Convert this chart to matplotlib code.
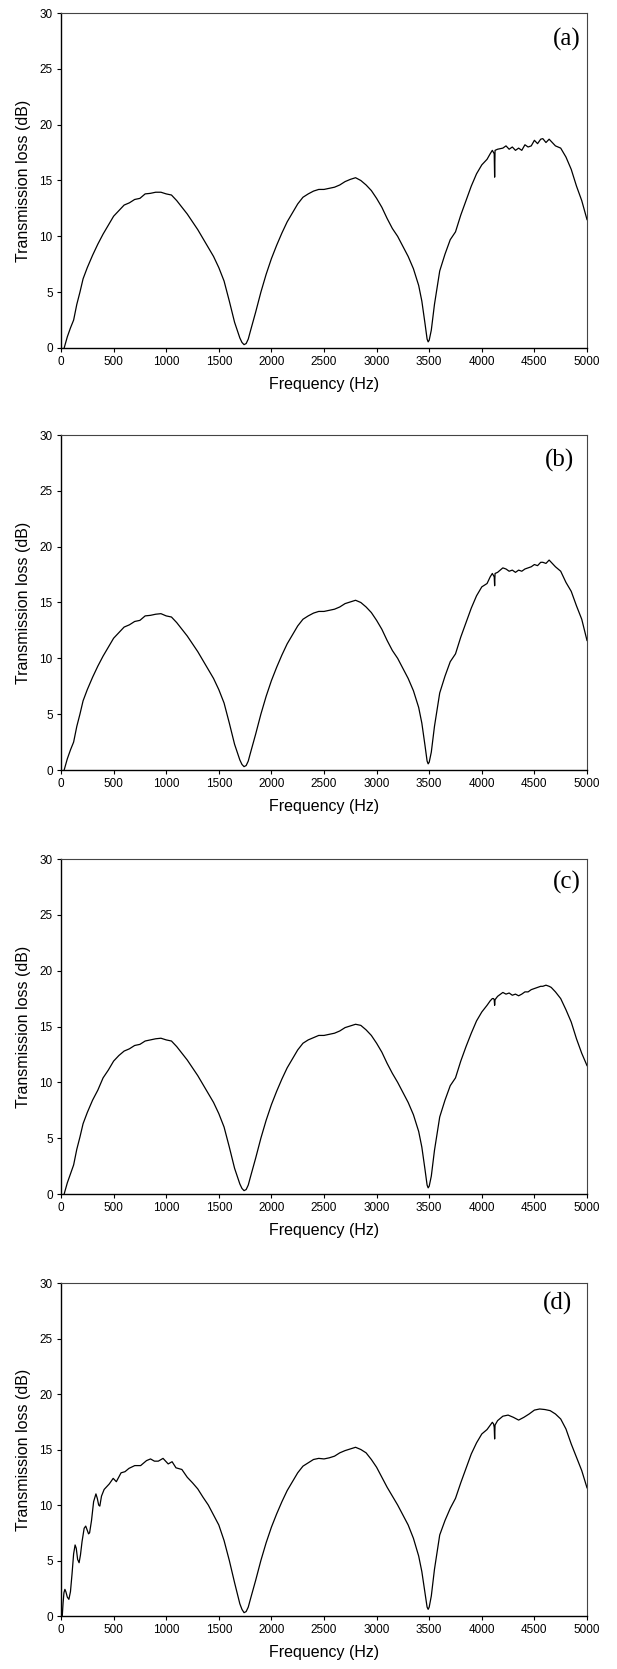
import numpy as np
import matplotlib
matplotlib.use("Agg")
import matplotlib.pyplot as plt

plt.rcParams['font.family'] = ['Liberation Sans', 'DejaVu Sans']

# frequency axis (Hz) shared by panels (a)-(c)
freq_abc = [30, 60, 90, 120, 150, 180, 210, 250, 300, 350, 400, 450, 500, 550,
            600, 650, 700, 750, 800, 850, 900, 950, 1000, 1050, 1100, 1150,
            1200, 1250, 1300, 1350, 1400, 1450, 1500, 1550, 1600, 1650, 1700,
            1720, 1740, 1760, 1780, 1800, 1850, 1900, 1950, 2000, 2050, 2100,
            2150, 2200, 2250, 2300, 2350, 2400, 2450, 2500, 2550, 2600, 2650,
            2700, 2750, 2800, 2850, 2900, 2950, 3000, 3050, 3100, 3150, 3200,
            3250, 3300, 3350, 3400, 3430, 3460, 3480, 3490, 3500, 3520, 3550,
            3600, 3650, 3700, 3750, 3800, 3850, 3900, 3950, 4000, 4050, 4080,
            4100, 4112, 4118, 4122, 4126, 4150, 4200, 4230, 4260, 4290, 4320,
            4350, 4380, 4410, 4440, 4470, 4500, 4530, 4560, 4580, 4610, 4640,
            4660, 4700, 4750, 4800, 4850, 4900, 4950, 5000]

tl_a = [0.0, 1.0, 1.8, 2.5, 3.9, 5.0, 6.2, 7.2, 8.3, 9.3, 10.2, 11.0, 11.8, 12.3,
        12.8, 13.0, 13.3, 13.4, 13.8, 13.85, 13.95, 13.95, 13.8, 13.7, 13.2, 12.6,
        12.0, 11.3, 10.6, 9.8, 9.0, 8.2, 7.2, 6.0, 4.2, 2.3, 0.9,
        0.5, 0.3, 0.4, 0.8, 1.5, 3.2, 5.0, 6.6, 8.0, 9.2, 10.3,
        11.3, 12.1, 12.9, 13.5, 13.8, 14.05, 14.2, 14.2, 14.3, 14.4, 14.6,
        14.9, 15.1, 15.25, 15.0, 14.6, 14.1, 13.4, 12.6, 11.6, 10.7, 10.0,
        9.1, 8.2, 7.1, 5.6, 4.2, 2.2, 0.8, 0.55, 0.7, 1.6, 3.9,
        6.9, 8.4, 9.7, 10.4, 11.9, 13.2, 14.5, 15.6, 16.4, 16.9, 17.4,
        17.7, 17.5, 17.4, 15.3, 17.7, 17.8, 17.9, 18.1, 17.8, 18.0, 17.7,
        17.9, 17.7, 18.2, 18.0, 18.1, 18.6, 18.3, 18.7, 18.75, 18.4, 18.7,
        18.5, 18.1, 17.9, 17.1, 16.0, 14.5, 13.2, 11.5]

tl_b = [0.0, 1.0, 1.8, 2.5, 3.9, 5.0, 6.2, 7.2, 8.3, 9.3, 10.2, 11.0, 11.8, 12.3,
        12.8, 13.0, 13.3, 13.4, 13.8, 13.85, 13.95, 14.0, 13.8, 13.7, 13.2, 12.6,
        12.0, 11.3, 10.6, 9.8, 9.0, 8.2, 7.2, 6.0, 4.2, 2.3, 0.9,
        0.5, 0.3, 0.4, 0.8, 1.5, 3.2, 5.0, 6.6, 8.0, 9.2, 10.3,
        11.3, 12.1, 12.9, 13.5, 13.8, 14.05, 14.2, 14.2, 14.3, 14.4, 14.6,
        14.9, 15.05, 15.2, 15.0, 14.6, 14.1, 13.4, 12.6, 11.6, 10.7, 10.0,
        9.1, 8.2, 7.1, 5.6, 4.2, 2.2, 0.8, 0.55, 0.7, 1.6, 3.9,
        6.9, 8.4, 9.7, 10.4, 11.9, 13.2, 14.5, 15.6, 16.4, 16.7, 17.3,
        17.6, 17.4, 17.3, 16.5, 17.6, 17.7, 18.1, 18.0, 17.8, 17.9, 17.7,
        17.9, 17.8, 18.0, 18.1, 18.2, 18.4, 18.3, 18.6, 18.6, 18.5, 18.8,
        18.6, 18.2, 17.8, 16.8, 16.0, 14.7, 13.5, 11.6]

tl_c = [0.0, 1.0, 1.8, 2.6, 4.0, 5.1, 6.3, 7.3, 8.4, 9.3, 10.4, 11.1, 11.9, 12.4,
        12.8, 13.0, 13.3, 13.4, 13.7, 13.8, 13.9, 13.95, 13.8, 13.7, 13.2, 12.6,
        12.0, 11.3, 10.6, 9.8, 9.0, 8.2, 7.2, 6.0, 4.2, 2.3, 0.9,
        0.5, 0.3, 0.4, 0.8, 1.5, 3.2, 5.0, 6.6, 8.0, 9.2, 10.3,
        11.3, 12.1, 12.9, 13.5, 13.8, 14.0, 14.2, 14.2, 14.3, 14.4, 14.6,
        14.9, 15.05, 15.2, 15.1, 14.7, 14.2, 13.5, 12.7, 11.7, 10.8, 10.0,
        9.1, 8.2, 7.1, 5.6, 4.2, 2.2, 0.8, 0.55, 0.7, 1.6, 3.9,
        6.9, 8.4, 9.7, 10.4, 11.9, 13.2, 14.4, 15.5, 16.3, 16.9, 17.3,
        17.5, 17.5, 17.4, 16.9, 17.4, 17.7, 18.05, 17.9, 18.0, 17.8, 17.9,
        17.75, 17.9, 18.1, 18.1, 18.3, 18.4, 18.5, 18.6, 18.6, 18.7, 18.6,
        18.5, 18.1, 17.5, 16.5, 15.4, 13.9, 12.6, 11.5]

# panel (d) resolves the low-frequency oscillations
freq_d = [12, 20, 28, 37, 46, 60, 75, 90, 105, 120, 134, 145, 158, 172, 185,
          200, 220, 235, 250, 262, 272, 290, 310, 332, 345, 358, 369, 385,
          410, 459, 496, 526, 571, 608, 646, 701, 757, 813, 851, 888,
          925, 970, 1019, 1056, 1093, 1149, 1200, 1250, 1300, 1350, 1400, 1450,
          1500, 1550, 1600, 1650, 1700, 1720, 1740, 1760, 1780, 1800, 1850,
          1900, 1950, 2000, 2050, 2100, 2150, 2200, 2250, 2300, 2350, 2400,
          2450, 2500, 2550, 2600, 2650, 2700, 2750, 2800, 2850, 2900, 2950,
          3000, 3050, 3100, 3150, 3200, 3250, 3300, 3350, 3400, 3430, 3460,
          3480, 3490, 3500, 3520, 3550, 3600, 3650, 3700, 3750, 3800, 3850,
          3900, 3950, 4000, 4050, 4080, 4100, 4112, 4118, 4122, 4126, 4150,
          4200, 4250, 4300, 4350, 4400, 4450, 4500, 4550, 4600, 4650, 4700,
          4750, 4800, 4850, 4900, 4950, 5000]

tl_d = [0.0, 1.2, 2.1, 2.4, 2.2, 1.7, 1.5, 2.2, 3.8, 5.6, 6.4, 6.1, 5.1, 4.8, 5.5,
        6.7, 7.9, 8.1, 7.7, 7.4, 7.5, 8.6, 10.3, 11.0, 10.6, 10.0, 9.9, 10.8,
        11.4, 11.9, 12.4, 12.1, 12.9, 13.0, 13.3, 13.55, 13.55, 14.0,
        14.15, 13.95, 13.95, 14.2, 13.7, 13.9, 13.35, 13.2, 12.5, 12.0, 11.45,
        10.7, 10.0, 9.1, 8.2, 6.8, 5.0, 3.0, 1.1, 0.6, 0.3, 0.4, 0.8, 1.5,
        3.2, 5.0, 6.6, 8.0, 9.2, 10.3, 11.3, 12.1, 12.9, 13.5, 13.8, 14.1,
        14.2, 14.15, 14.25, 14.4, 14.7, 14.9, 15.05, 15.2, 15.0, 14.7, 14.1,
        13.4, 12.5, 11.6, 10.8, 10.0, 9.1, 8.2, 7.0, 5.4, 4.0, 2.1, 0.8, 0.6,
        0.8, 1.8, 4.2, 7.3, 8.6, 9.7, 10.6, 12.0, 13.3, 14.6, 15.6, 16.4,
        16.8, 17.2, 17.45, 17.3, 17.0, 15.95, 17.2, 17.6, 18.0, 18.1, 17.9,
        17.65, 17.9, 18.2, 18.55, 18.65, 18.6, 18.5, 18.2, 17.75, 16.85, 15.5,
        14.3, 13.1, 11.55]

panel_labels = ["(a)", "(b)", "(c)", "(d)"]
xticks = np.arange(0, 5001, 500)
yticks = np.arange(0, 31, 5)


def plot_panel(fig, rect, freq, tl, label, label_xy):
    ax = fig.add_axes(rect)
    ax.plot(freq, tl, color="black", lw=0.9)
    ax.set_xlim(0, 5000)
    ax.set_ylim(0, 30)
    ax.set_xticks(xticks)
    ax.set_yticks(yticks)
    ax.tick_params(direction="out", length=3, width=0.8, labelsize=8.5, pad=3)
    ax.set_xlabel("Frequency (Hz)", fontsize=11.5, labelpad=6)
    ax.set_ylabel("Transmission loss (dB)", fontsize=11.5, labelpad=6)
    for s in ["left", "bottom"]:
        ax.spines[s].set_linewidth(1.0)
    for s in ["top", "right"]:
        ax.spines[s].set_linewidth(0.8)
        ax.spines[s].set_color("#444444")
    ax.text(*label_xy, label, transform=ax.transAxes, ha="center", va="center",
            fontsize=18, family=["Liberation Serif", "DejaVu Serif"])
    return ax


fig = plt.figure(figsize=(6.17, 16.69), dpi=100)
left = 61 / 617
width = 526 / 617
bottoms = [1 - 348 / 1669, 1 - 770 / 1669, 1 - 1194 / 1669, 1 - 1616 / 1669]
heights = [335 / 1669, 335 / 1669, 335 / 1669, 333 / 1669]
label_pos = [(0.962, 0.92), (0.947, 0.925), (0.962, 0.93), (0.943, 0.94)]
series = [(freq_abc, tl_a), (freq_abc, tl_b), (freq_abc, tl_c), (freq_d, tl_d)]

for i in range(4):
    plot_panel(fig, [left, bottoms[i], width, heights[i]], *series[i],
               panel_labels[i], label_pos[i])

fig.savefig("out.png", dpi=100)
